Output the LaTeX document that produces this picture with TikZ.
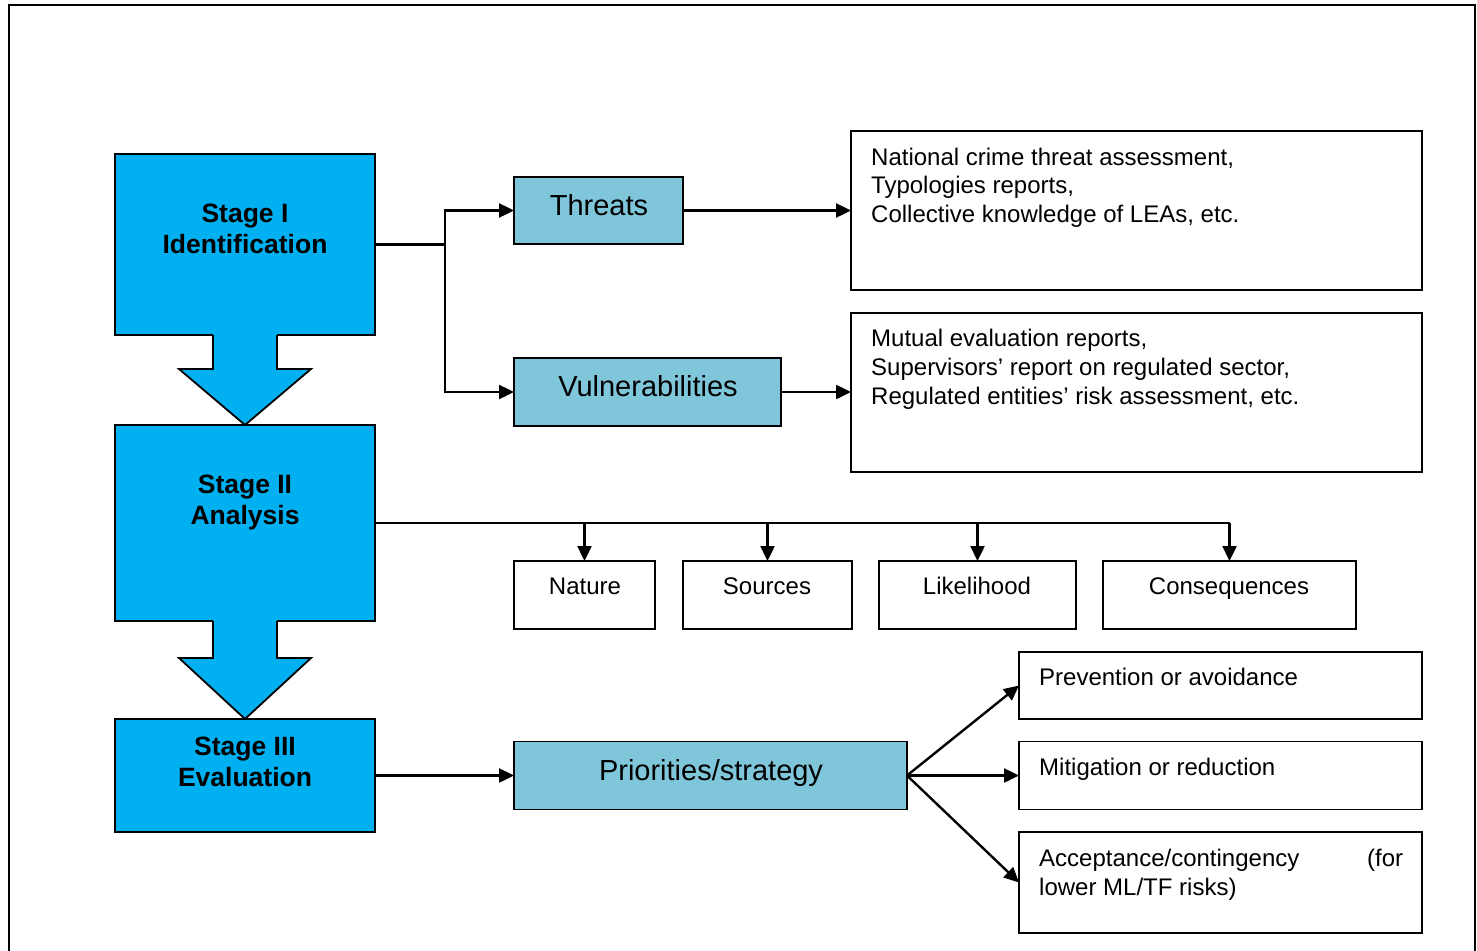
\documentclass[tikz,border=0pt]{standalone}
\usepackage{fontspec}
\setmainfont{Liberation Sans}
\usetikzlibrary{arrows.meta}
\definecolor{stageblue}{RGB}{0,176,240}
\definecolor{lightblue}{RGB}{127,198,219}
\tikzset{
  box/.style={draw=black, line width=1.8pt, inner sep=0pt, outer sep=0pt},
  stagebox/.style={box, fill=stageblue},
  hlbox/.style={box, fill=lightblue},
  wbox/.style={box, fill=white},
  conn/.style={line width=2.4pt, draw=black},
  arr/.style={conn, -{Triangle[length=15pt,width=14pt]}},
  stagetxt/.style={inner sep=0pt, font=\fontsize{26.5}{31.6}\selectfont\bfseries},
  bigtxt/.style={inner sep=0pt, font=\fontsize{29}{34}\selectfont},
  smalltxt/.style={inner sep=0pt, font=\fontsize{24}{28.8}\selectfont},
}
\begin{document}
\begin{tikzpicture}[x=1pt,y=-1pt]
\useasboundingbox (0,0) rectangle (1477,950);
% outer frame (open at the bottom)
\draw[line width=2.2pt] (9,952) -- (9,5) -- (1475,5) -- (1475,952);

% Stage I box and arrow
\node[stagebox, minimum width=260pt, minimum height=181pt] (s1) at (245,244.5) {};
\fill[stageblue] (213,333) -- (213,369) -- (179,369) -- (245,425) -- (311,369) -- (277,369) -- (277,333) -- cycle;
\draw[line width=1.8pt, line join=miter] (213,335) -- (213,369) -- (179,369) -- (245,425) -- (311,369) -- (277,369) -- (277,335);
% Stage II box and arrow
\node[stagebox, minimum width=260pt, minimum height=196pt] (s2) at (245,523) {};
\fill[stageblue] (213,619) -- (213,658) -- (179,658) -- (245,719) -- (311,658) -- (277,658) -- (277,619) -- cycle;
\draw[line width=1.8pt, line join=miter] (213,621) -- (213,658) -- (179,658) -- (245,719) -- (311,658) -- (277,658) -- (277,621);
% Stage III box
\node[stagebox, minimum width=260pt, minimum height=113pt] (s3) at (245,775.5) {};

\node[stagetxt, anchor=base] (t1) at (245,222) {\parbox[t]{250pt}{\centering Stage I\\Identification}};
\node[stagetxt, anchor=base] (t2) at (245,493) {\parbox[t]{250pt}{\centering Stage II\\Analysis}};
\node[stagetxt, anchor=base] (t3) at (245,755) {\parbox[t]{250pt}{\centering Stage III\\Evaluation}};

% Stage I branch
\node[hlbox, minimum width=169pt, minimum height=67pt] (thr) at (598.5,210.5) {};
\node[hlbox, minimum width=267pt, minimum height=68pt] (vul) at (647.5,392) {};
\node[bigtxt, anchor=base] (tthr) at (599,215) {Threats};
\node[bigtxt, anchor=base] (tvul) at (648,396.5) {Vulnerabilities};

\node[wbox, minimum width=571pt, minimum height=159pt] (nat) at (1136.5,210.5) {};
\node[wbox, minimum width=571pt, minimum height=159pt] (mut) at (1136.5,392.5) {};
\node[smalltxt, anchor=base west] (tnat) at (871,165) {\parbox[t]{540pt}{National crime threat assessment,\\Typologies reports,\\Collective knowledge of LEAs, etc.}};
\node[smalltxt, anchor=base west] (tmut) at (871,346.5) {\parbox[t]{540pt}{Mutual evaluation reports,\\Supervisors’ report on regulated sector,\\Regulated entities’ risk assessment, etc.}};

\coordinate (j1) at (445,244.5);
\draw[conn] (s1.east) -- (j1);
\draw[arr] (j1) |- (thr.west);
\draw[arr] (j1) |- (vul.west);
\draw[arr] (thr.east) -- (thr.east -| nat.west);
\draw[arr] (vul.east) -- (vul.east -| mut.west);

% Stage II branch
\node[wbox, minimum width=141pt, minimum height=68pt] (nature) at (584.5,595) {};
\node[wbox, minimum width=169pt, minimum height=68pt] (sources) at (767.5,595) {};
\node[wbox, minimum width=197pt, minimum height=68pt] (likeli) at (977.5,595) {};
\node[wbox, minimum width=253pt, minimum height=68pt] (conseq) at (1229.5,595) {};
\node[smalltxt, anchor=base] (tnature) at (585,594) {Nature};
\node[smalltxt, anchor=base] (tsources) at (767,594) {Sources};
\node[smalltxt, anchor=base] (tlikeli) at (977,594) {Likelihood};
\node[smalltxt, anchor=base] (tconseq) at (1229,594) {Consequences};

\coordinate (j2) at (conseq.north |- s2.east);
\draw[conn] (s2.east) -- (j2);
\draw[arr] (nature.north |- s2.east) -- (nature.north);
\draw[arr] (sources.north |- s2.east) -- (sources.north);
\draw[arr] (likeli.north |- s2.east) -- (likeli.north);
\draw[arr] (j2) -- (conseq.north);

% Stage III branch
\node[hlbox, minimum width=393pt, minimum height=68pt] (prio) at (710.5,775.5) {};
\node[bigtxt, anchor=base] (tprio) at (711,780) {Priorities/strategy};
\node[wbox, minimum width=403pt, minimum height=67pt] (prev) at (1220.5,685.5) {};
\node[wbox, minimum width=403pt, minimum height=68pt] (miti) at (1220.5,775.5) {};
\node[wbox, minimum width=403pt, minimum height=101pt] (acc) at (1220.5,882.5) {};
\node[smalltxt, anchor=base west] (tprev) at (1039,685.5) {Prevention or avoidance};
\node[smalltxt, anchor=base west] (tmiti) at (1039,775.5) {Mitigation or reduction};
\node[smalltxt, anchor=base west] (tacc) at (1039,866.5) {\parbox[t]{364pt}{Acceptance/contingency\hfill(for\\lower ML/TF risks)}};

\draw[arr] (s3.east) -- (prio.west);
\draw[arr] (prio.east) -- (prev.west);
\draw[arr] (prio.east) -- (miti.west);
\draw[arr] (prio.east) -- (acc.west);
\end{tikzpicture}
\end{document}
